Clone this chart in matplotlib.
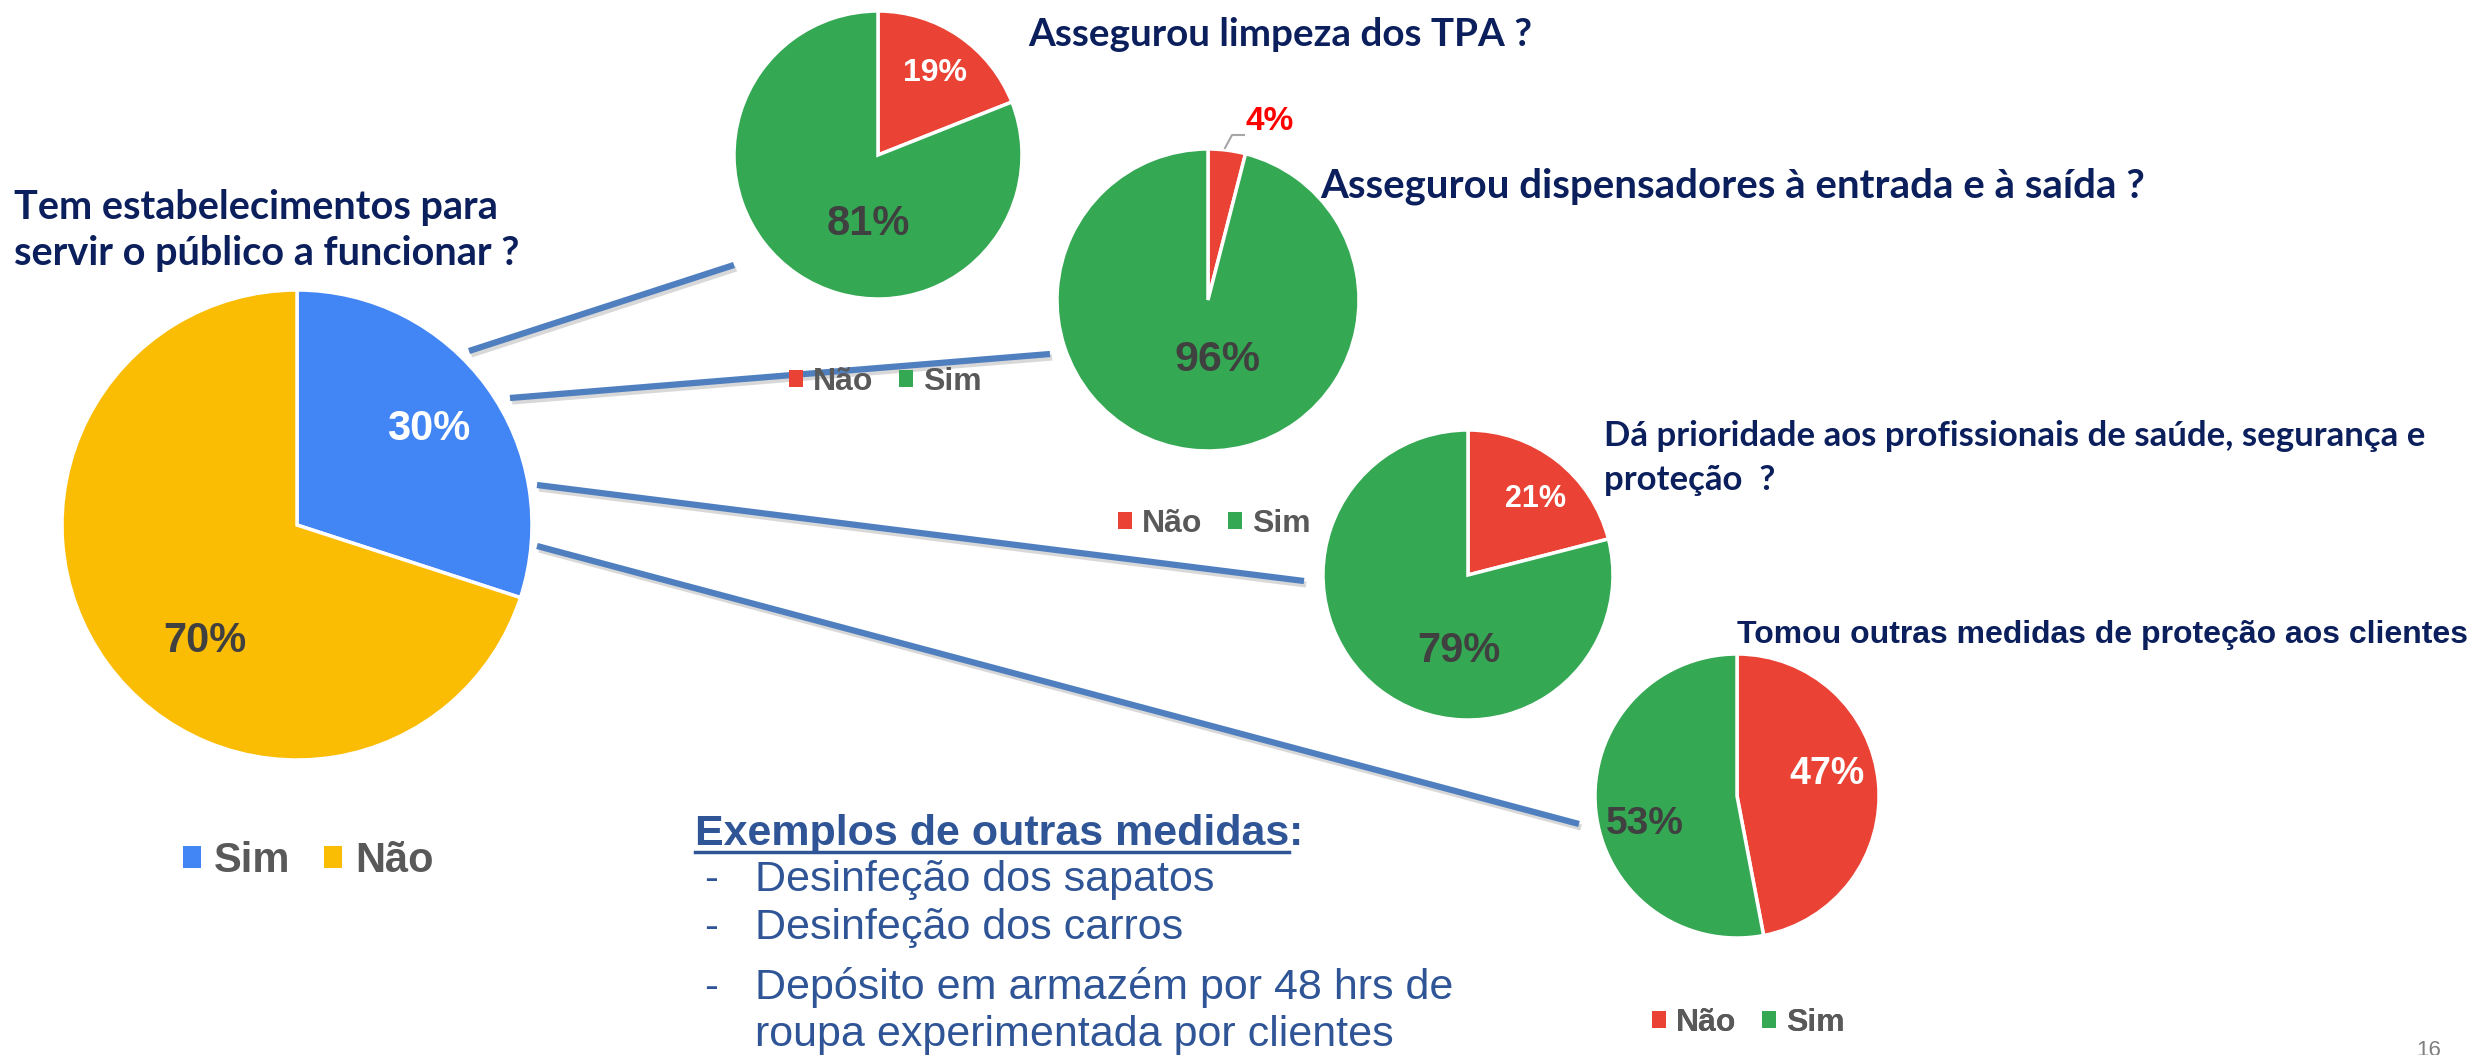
import matplotlib
matplotlib.use("Agg")
import matplotlib.pyplot as plt
from matplotlib import patheffects as pe

W, H = 2476, 1055

# ---- data ----
main_labels = ["Sim", "Não"]
main_values = [30, 70]

q_labels = ["Não", "Sim"]
limpeza_tpa = [19, 81]
dispensadores = [4, 96]
prioridade = [21, 79]
outras_medidas = [47, 53]

main_title = "Tem estabelecimentos para\nservir o público a funcionar ?"
q_titles = [
    "Assegurou limpeza dos TPA ?",
    "Assegurou dispensadores à entrada e à saída ?",
    "Dá prioridade aos profissionais de saúde, segurança e\nproteção  ?",
    "Tomou outras medidas de proteção aos clientes",
]
exemplos_titulo = "Exemplos de outras medidas"
exemplos = [
    "Desinfeção dos sapatos",
    "Desinfeção dos carros",
    "Depósito em armazém por 48 hrs de",
    "roupa experimentada por clientes",
]

# ---- style ----
plt.rcParams["font.family"] = ["Liberation Sans", "DejaVu Sans"]
TITLE_FONT = ["Lato", "DejaVu Sans"]
BLUE, YELLOW = "#4285F4", "#FBBC04"
RED, GREEN = "#EA4335", "#34A853"
NAVY = "#0B1F5C"
TXT = "#404040"
LEG = "#595959"
LINK = "#4F7FBF"
LIST = "#2F5597"


def Y(py):
    return H - py


fig = plt.figure(figsize=(W / 100, H / 100), dpi=100)
ax = fig.add_axes([0, 0, 1, 1])


def draw_pie(values, colors, cx, cy, r, lab_pos, lab_style, explode=None):
    wedges, _, autotexts = ax.pie(
        values, colors=colors, startangle=90, counterclock=False,
        center=(cx, Y(cy)), radius=r, explode=explode, frame=True,
        autopct=lambda p: "{:.0f}%".format(p),
        wedgeprops=dict(edgecolor="white", linewidth=2.5))
    for t, (px, py), (size, col) in zip(autotexts, lab_pos, lab_style):
        t.set_position((px, Y(py)))
        t.set_fontsize(size)
        t.set_color(col)
        t.set_fontweight("bold")
        t.set_ha("center")
        t.set_va("center")
    return wedges


def add_legend(wedges, labels, x, y, size):
    leg = ax.legend(wedges, labels, loc="center", bbox_to_anchor=(x / W, 1 - y / H),
                    ncol=2, frameon=False, handlelength=0.45, handleheight=0.45,
                    handletextpad=0.3, columnspacing=0.8, borderpad=0,
                    prop=dict(weight="bold", size=size), labelcolor=LEG)
    for h in leg.legend_handles:
        h.set_edgecolor("none")
    ax.add_artist(leg)


# main pie
w_main = draw_pie(main_values, [BLUE, YELLOW], 297, 525, 235,
                  [(429, 429), (205, 641)], [(30, "white"), (30, TXT)])
add_legend(w_main, main_labels, 308, 861, 30)

# question pies
w1 = draw_pie(limpeza_tpa, [RED, GREEN], 878, 155, 144,
              [(935, 73), (868, 224)], [(23, "white"), (30, TXT)])
add_legend(w1, q_labels, 885, 382, 23)

w2 = draw_pie(dispensadores, [RED, GREEN], 1208, 300, 151,
              [(1270, 122), (1217, 360)], [(24, "#FF0000"), (31, TXT)])
ax.plot([1225, 1232, 1244], [Y(148), Y(135), Y(135)], color="#A6A6A6", lw=1.5)

w3 = draw_pie(prioridade, [RED, GREEN], 1468, 575, 145,
              [(1535, 499), (1459, 651)], [(22, "white"), (30, TXT)])
add_legend(w3, q_labels, 1214, 524, 23)

w4 = draw_pie(outras_medidas, [RED, GREEN], 1737, 796, 142,
              [(1827, 774), (1645, 824)], [(27, "white"), (28, TXT)],
              explode=[0.07, 0])
add_legend(w4, q_labels, 1748, 1023, 23)

# connecting lines
links = [((469, 351), (734, 265)), ((510, 398), (1050, 354)),
         ((537, 485), (1304, 581)), ((537, 546), (1579, 824))]
for (x0, y0), (x1, y1) in links:
    ax.plot([x0, x1], [Y(y0), Y(y1)], color=LINK, lw=4.5, solid_capstyle="butt", zorder=2,
            path_effects=[pe.SimpleLineShadow(offset=(1.5, -2.5), shadow_color="#7F7F7F", alpha=0.3),
                          pe.Normal()])

# titles
ax.text(14, Y(230), main_title, fontsize=28.5, fontweight="bold", color=NAVY,
        family=TITLE_FONT, va="center", ha="left", linespacing=1.3)
ax.text(1028, Y(35), q_titles[0], fontsize=27.8, fontweight="bold", color=NAVY,
        family=TITLE_FONT, va="center")
ax.text(1320, Y(186), q_titles[1], fontsize=28.9, fontweight="bold", color=NAVY,
        family=TITLE_FONT, va="center")
ax.text(1604, Y(458), q_titles[2], fontsize=25, fontweight="bold", color=NAVY,
        family=TITLE_FONT, va="center", linespacing=1.45)
ax.text(1737, Y(635), q_titles[3], fontsize=23, fontweight="bold", color=NAVY, va="center")

# examples block
hdr = ax.text(695, Y(834), exemplos_titulo, fontsize=31, fontweight="bold", color=LIST, va="center")
ys = [880, 928, 988, 1035]
for i, (txt, yy) in enumerate(zip(exemplos, ys)):
    if i < 3:
        ax.text(704, Y(yy), "-", fontsize=30, color=LIST, va="center")
    ax.text(755, Y(yy), txt, fontsize=31, color=LIST, va="center")

ax.text(2416, Y(1040), "16", fontsize=16, color="#7F7F7F", va="top")

ax.set_xlim(0, W)
ax.set_ylim(0, H)
ax.set_aspect("auto")
ax.axis("off")

# underline + colon for the header
fig.canvas.draw()
bb = hdr.get_window_extent()
ax.plot([bb.x0, bb.x1], [bb.y0 + 2, bb.y0 + 2], color=LIST, lw=2.5)
ax.text(bb.x1, Y(834), ":", fontsize=31, fontweight="bold", color=LIST, va="center")

fig.savefig("out.png", dpi=100)
